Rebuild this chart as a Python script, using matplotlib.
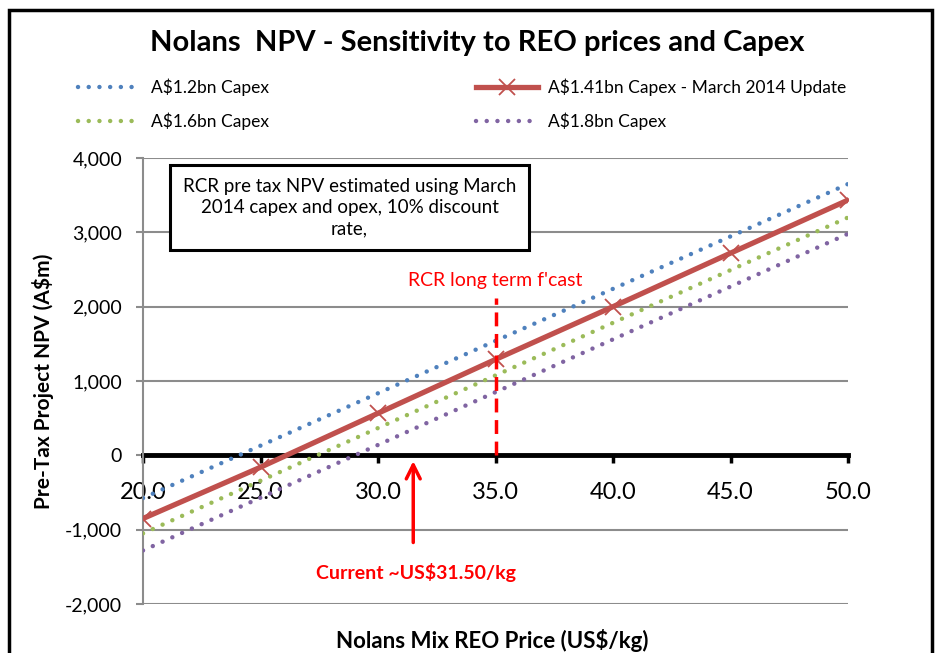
import matplotlib
matplotlib.use("Agg")
import matplotlib.pyplot as plt
from matplotlib.patches import Rectangle

plt.rcParams['font.family'] = ['Lato', 'DejaVu Sans']

# Data
prices = [20.0, 25.0, 30.0, 35.0, 40.0, 45.0, 50.0]
npv_12 = [-575, 130, 835, 1540, 2240, 2945, 3650]
npv_141 = [-850, -160, 566, 1290, 2000, 2720, 3434]
npv_16 = [-1050, -342, 367, 1075, 1783, 2492, 3200]
npv_18 = [-1280, -570, 140, 850, 1560, 2270, 2980]
labels = ["A$1.2bn Capex", "A$1.41bn Capex - March 2014 Update",
          "A$1.6bn Capex", "A$1.8bn Capex"]
yticks = [-2000, -1000, 0, 1000, 2000, 3000, 4000]
xticks = [20, 25, 30, 35, 40, 45, 50]
forecast_price = 35.0
current_price = 31.5

c_blue, c_red, c_green, c_purple = "#4F81BD", "#C0504D", "#9BBB59", "#8064A2"

W, H = 938, 653
fig = plt.figure(figsize=(W/100, H/100), dpi=100)
ax = fig.add_axes([143/W, 1-604/H, (848-143)/W, (604-158)/H])

dot = (0, (0.01, 2.4))
l1, = ax.plot(prices, npv_12, color=c_blue, lw=3.2, ls=dot, dash_capstyle='round', label=labels[0], zorder=3)
l3, = ax.plot(prices, npv_16, color=c_green, lw=3.2, ls=dot, dash_capstyle='round', label=labels[2], zorder=3)
l4, = ax.plot(prices, npv_18, color=c_purple, lw=3.2, ls=dot, dash_capstyle='round', label=labels[3], zorder=3)
l2, = ax.plot(prices, npv_141, color=c_red, lw=3.8, marker='x', ms=11, mew=1.3, label=labels[1], zorder=4)

ax.set_xlim(20, 50)
ax.set_ylim(-2000, 4000)
ax.set_yticks(yticks)
ax.set_yticklabels([f"{v:,}" for v in yticks])
ax.set_xticks(xticks)
ax.set_xticklabels([f"{v:.1f}" for v in xticks])
ax.grid(axis='y', color='#8c8c8c', lw=1.5, zorder=0)
for s in ['top', 'right']:
    ax.spines[s].set_visible(False)
ax.spines['left'].set_color('#8c8c8c')
ax.spines['left'].set_linewidth(1.5)
ax.spines['bottom'].set_position(('data', 0))
ax.spines['bottom'].set_linewidth(3.5)
ax.spines['bottom'].set_zorder(2)
ax.tick_params(axis='x', direction='out', length=6, width=2.5, color='black',
               labelsize=17, pad=13)
ax.tick_params(axis='y', direction='out', length=5, width=1.5, color='#8c8c8c',
               labelsize=14, pad=10)

ax.set_ylabel("Pre-Tax Project NPV (A$m)", fontsize=15, fontweight='bold', labelpad=8)
fig.text(492/W, 1-640/H, "Nolans Mix REO Price (US$/kg)", fontsize=16, fontweight='bold',
         ha='center', va='center')

# forecast line
ax.plot([forecast_price, forecast_price], [0, 2115], color='red', lw=2.5, ls=(0, (4, 2.2)), zorder=5)
ax.text(forecast_price, 2350, "RCR long term f'cast", color='red', fontsize=14,
        ha='center', va='center')

# current price arrow
ax.annotate("", xy=(current_price, -40), xytext=(current_price, -1210),
            arrowprops=dict(arrowstyle='->,head_length=1.0,head_width=0.5', color='red', lw=2.5))
ax.text(current_price + 0.1, -1576, "Current ~US$31.50/kg", color='red', fontsize=14,
        fontweight='bold', ha='center', va='center')

# annotation box
ax.text(0.293, 0.889,
        "RCR pre tax NPV estimated using March\n2014 capex and opex, 10% discount\nrate,",
        transform=ax.transAxes, ha='center', va='center', fontsize=13.5, linespacing=1.3,
        bbox=dict(boxstyle='square,pad=0.7', fc='white', ec='black', lw=2.2), zorder=6)

# title
fig.text(477/W, 1-43/H, "Nolans  NPV - Sensitivity to REO prices and Capex",
         fontsize=21, fontweight='bold', ha='center', va='center')

# legend
fig.legend(handles=[l1, l3, l2, l4], loc='upper left', bbox_to_anchor=(78/W, 1-79/H),
           ncol=2, frameon=False, fontsize=12.5, handlelength=3.6, columnspacing=11.9,
           labelspacing=0.95, handletextpad=0.6, borderaxespad=0, borderpad=0)

# outer border
fig.add_artist(Rectangle((9/W, -0.05), (932-9)/W, (1-10/H)+0.05, transform=fig.transFigure,
                         fill=False, ec='black', lw=2.5))

fig.savefig("out.png", dpi=100)
